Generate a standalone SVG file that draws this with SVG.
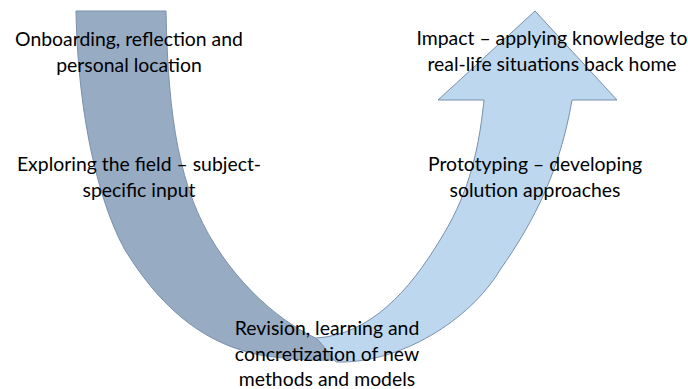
<svg xmlns="http://www.w3.org/2000/svg" width="688" height="389" viewBox="0 0 688 389">
  <style>
    .band { stroke: #7890ad; stroke-width: 1; stroke-linejoin: miter; }
    .dark { fill: #97abc3; }
    .light { fill: #bdd7ee; }
    .label { font-family: "Lato", "Open Sans", "Liberation Sans", sans-serif; font-size: 19.4px; fill: #000; text-anchor: middle; }
  </style>

  <!-- descending half of the U -->
  <g id="band-down">
    <path class="band dark" d="M76,11 L166,11 C168,120 180,190 215,245 C250,300 300,338 348,350 L336,360 C310,361 285,359 260,355 C210,345 165,315 125,250 C100,205 78,120 76,11 Z"/>
  </g>

  <!-- rising half of the U, ending in the arrowhead -->
  <g id="band-up">
    <path class="band light" d="M336,362 C400,364 470,320 500,270 C535,220 560,170 572,100 L617,100 L535,11 L438,100 L484,100 C478,160 465,200 440,240 C410,290 370,335 316,338 C325,347 330,355 336,362 Z"/>
  </g>

  <g id="step-onboarding">
    <text class="label" x="129" y="46">Onboarding, reflection and</text>
    <text class="label" x="129" y="72">personal location</text>
  </g>
  <g id="step-exploring">
    <text class="label" x="139" y="171">Exploring the field – subject-</text>
    <text class="label" x="139" y="197">specific input</text>
  </g>
  <g id="step-revision">
    <text class="label" x="327" y="335">Revision, learning and</text>
    <text class="label" x="327" y="361">concretization of new</text>
    <text class="label" x="327" y="386">methods and models</text>
  </g>
  <g id="step-prototyping">
    <text class="label" x="535" y="171">Prototyping – developing</text>
    <text class="label" x="535" y="197">solution approaches</text>
  </g>
  <g id="step-impact">
    <text class="label" x="552" y="45">Impact – applying knowledge to</text>
    <text class="label" x="552" y="71">real-life situations back home</text>
  </g>
</svg>
